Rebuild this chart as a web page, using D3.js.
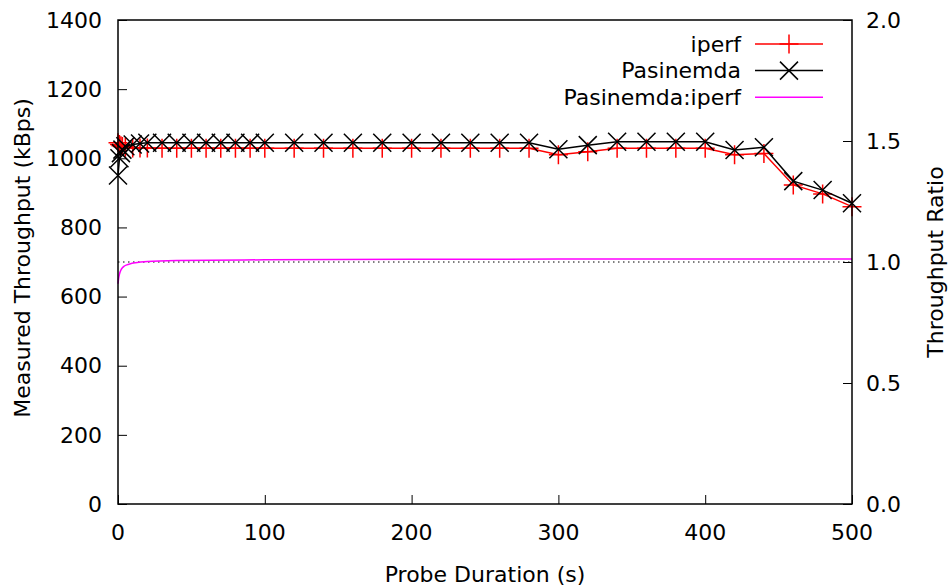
<!DOCTYPE html>
<html>
<head>
<meta charset="utf-8">
<script src="https://cdn.jsdelivr.net/npm/d3@7"></script>
<style>
  body { margin: 0; background: #fff; }
  svg text { font-family: "DejaVu Sans", sans-serif; fill: #000; font-size: 22px; }
</style>
</head>
<body>
<div id="chart"></div>
<script>
// probe durations (s) and measured throughput (kBps)
var durations = [0, 1, 2, 3, 5, 10, 15, 20, 30, 40, 50, 60, 70, 80, 90, 100,
  120, 140, 160, 180, 200, 220, 240, 260, 280, 300, 320, 340, 360, 380, 400,
  420, 440, 460, 480, 500];
var iperfVals = [1045, 1040, 1036, 1034, 1032, 1030, 1030, 1030, 1029, 1029, 1029, 1029, 1029, 1029, 1029, 1029,
  1029, 1029, 1029, 1029, 1029, 1029, 1029, 1029, 1029, 1010, 1019, 1029, 1029, 1029, 1029,
  1010, 1014, 923, 897, 860];
var pasinemdaVals = [950, 1000, 1015, 1025, 1035, 1040, 1043, 1045, 1045, 1045, 1045, 1045, 1045, 1045, 1045, 1045,
  1045, 1045, 1045, 1045, 1045, 1045, 1045, 1045, 1045, 1026, 1038, 1048, 1048, 1048, 1048,
  1024, 1032, 934, 908, 870];

// ratio Pasinemda:iperf (right axis)
var ratioX = [0, 0.5, 1, 2, 3, 4, 6, 8, 12, 20, 40, 100, 200, 300, 400, 500];
var ratioY = [0.91, 0.935, 0.95, 0.967, 0.976, 0.982, 0.988, 0.992, 0.997, 1.002, 1.006, 1.009, 1.011, 1.012, 1.012, 1.012];

var yTicks = [0, 200, 400, 600, 800, 1000, 1200, 1400];
var y2Ticks = [0, 0.5, 1.0, 1.5, 2.0];
var xTicks = [0, 100, 200, 300, 400, 500];

var W = 952, H = 587;
var m = {left: 118, right: 100, top: 20, bottom: 83};

var svg = d3.select("#chart").append("svg")
  .attr("width", W)
  .attr("height", H);

var x = d3.scaleLinear().domain([0, 500]).range([m.left, W - m.right]);
var y = d3.scaleLinear().domain([0, 1400]).range([H - m.bottom, m.top]);
var y2 = d3.scaleLinear().domain([0, 2]).range([H - m.bottom, m.top]);

// reference line at ratio 1.0
svg.append("line")
  .attr("x1", x(0)).attr("x2", x(500))
  .attr("y1", y2(1)).attr("y2", y2(1))
  .attr("stroke", "#000")
  .attr("stroke-width", 1)
  .attr("stroke-dasharray", "1.5,3.5");

// axes: ticks point inward
svg.append("g")
  .attr("transform", "translate(" + m.left + ",0)")
  .call(d3.axisRight(y).tickValues(yTicks).tickSize(9).tickFormat(""))
  .call(g => g.select(".domain").remove());

svg.append("g")
  .attr("transform", "translate(" + (W - m.right) + ",0)")
  .call(d3.axisLeft(y2).tickValues(y2Ticks).tickSize(9).tickFormat(""))
  .call(g => g.select(".domain").remove());

svg.append("g")
  .attr("transform", "translate(0," + (H - m.bottom) + ")")
  .call(d3.axisTop(x).tickValues(xTicks).tickSize(9).tickFormat(""))
  .call(g => g.select(".domain").remove());

svg.selectAll(".tick line").attr("stroke", "#000").attr("stroke-width", 1);

// tick labels
svg.append("g").selectAll("text")
  .data(yTicks)
  .enter().append("text")
  .attr("x", 102)
  .attr("y", d => y(d))
  .attr("dy", "0.35em")
  .attr("text-anchor", "end")
  .text(d => d);

svg.append("g").selectAll("text")
  .data(y2Ticks)
  .enter().append("text")
  .attr("x", 866)
  .attr("y", d => y2(d))
  .attr("dy", "0.35em")
  .text(d => d.toFixed(1));

svg.append("g").selectAll("text")
  .data(xTicks)
  .enter().append("text")
  .attr("x", d => x(d))
  .attr("y", 532)
  .attr("dy", "0.35em")
  .attr("text-anchor", "middle")
  .text(d => d);

// axis titles
svg.append("text")
  .attr("x", (m.left + W - m.right) / 2)
  .attr("y", 574)
  .attr("dy", "0.35em")
  .attr("text-anchor", "middle")
  .text("Probe Duration (s)");

svg.append("text")
  .attr("transform", "translate(22," + ((m.top + H - m.bottom) / 2 - 4) + ") rotate(-90)")
  .attr("dy", "0.35em")
  .attr("text-anchor", "middle")
  .text("Measured Throughput (kBps)");

svg.append("text")
  .attr("transform", "translate(935," + ((m.top + H - m.bottom) / 2) + ") rotate(-90)")
  .attr("dy", "0.35em")
  .attr("text-anchor", "middle")
  .text("Throughput Ratio");

// series
var line = d3.line().x(d => x(d[0])).y(d => y(d[1]));
var iperfData = durations.map((d, i) => [d, iperfVals[i]]);
var pasData = durations.map((d, i) => [d, pasinemdaVals[i]]);
var ratioData = ratioX.map((d, i) => [d, ratioY[i]]);

function plus(g, cx, cy, s, col) {
  g.append("path")
    .attr("d", "M" + (cx - s) + "," + cy + "H" + (cx + s) + "M" + cx + "," + (cy - s) + "V" + (cy + s))
    .attr("stroke", col).attr("stroke-width", 1.5).attr("fill", "none");
}
function cross(g, cx, cy, s, col) {
  g.append("path")
    .attr("d", "M" + (cx - s) + "," + (cy - s) + "L" + (cx + s) + "," + (cy + s) +
      "M" + (cx - s) + "," + (cy + s) + "L" + (cx + s) + "," + (cy - s))
    .attr("stroke", col).attr("stroke-width", 1.5).attr("fill", "none");
}

var plot = svg.append("g");

plot.append("path")
  .datum(iperfData)
  .attr("d", line)
  .attr("fill", "none")
  .attr("stroke", "#ff0000")
  .attr("stroke-width", 1.5);
iperfData.forEach(d => plus(plot, x(d[0]), y(d[1]), 9.5, "#ff0000"));

plot.append("path")
  .datum(pasData)
  .attr("d", line)
  .attr("fill", "none")
  .attr("stroke", "#000")
  .attr("stroke-width", 1.5);
pasData.forEach(d => cross(plot, x(d[0]), y(d[1]), 9, "#000"));

plot.append("path")
  .datum(ratioData)
  .attr("d", d3.line().x(d => x(d[0])).y(d => y2(d[1])).curve(d3.curveMonotoneX))
  .attr("fill", "none")
  .attr("stroke", "#ff00ff")
  .attr("stroke-width", 1.5);

// border
svg.append("rect")
  .attr("x", m.left).attr("y", m.top)
  .attr("width", W - m.right - m.left)
  .attr("height", H - m.bottom - m.top)
  .attr("fill", "none")
  .attr("stroke", "#000")
  .attr("stroke-width", 1.5);

// legend
var legendNames = ["iperf", "Pasinemda", "Pasinemda:iperf"];
var legendCols = ["#ff0000", "#000", "#ff00ff"];
var legend = svg.append("g");
legendNames.forEach(function(name, i) {
  var ly = 44 + i * 26.6;
  legend.append("text")
    .attr("x", 741)
    .attr("y", ly)
    .attr("dy", "0.35em")
    .attr("text-anchor", "end")
    .text(name);
  legend.append("line")
    .attr("x1", 755).attr("x2", 823)
    .attr("y1", ly).attr("y2", ly)
    .attr("stroke", legendCols[i])
    .attr("stroke-width", 1.5);
  if (i === 0) plus(legend, 789, ly, 9.5, legendCols[i]);
  if (i === 1) cross(legend, 789, ly, 9, legendCols[i]);
});
</script>
</body>
</html>
